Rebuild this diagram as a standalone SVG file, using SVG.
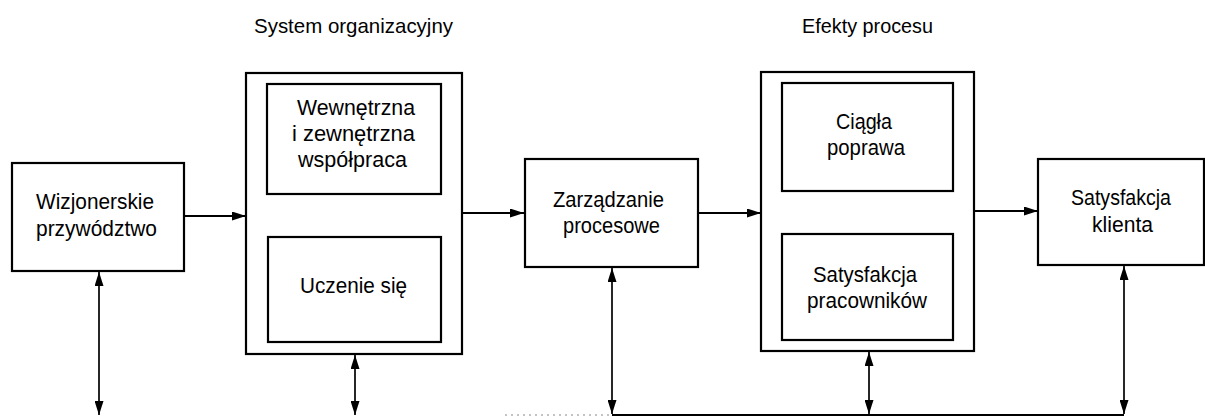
<svg xmlns="http://www.w3.org/2000/svg" width="1205" height="416" viewBox="0 0 1205 416">
<defs>
<style>
.box{fill:#fff;stroke:#000;stroke-width:2.2}
.txt{font-family:"Liberation Sans",Arial,sans-serif;font-size:22px;fill:#000;text-anchor:middle}
.ttl{font-family:"Liberation Sans",Arial,sans-serif;font-size:21px;fill:#000;text-anchor:middle}
.con{fill:none;stroke:#000;stroke-width:2}
.vcon{fill:none;stroke:#000;stroke-width:1.7}
.faint{fill:none;stroke:#888;stroke-width:1;stroke-dasharray:2 4}
</style>
<marker id="arr" viewBox="0 0 14 9" refX="14" refY="4.5" markerWidth="14" markerHeight="9" markerUnits="userSpaceOnUse" orient="auto-start-reverse">
<path d="M0,0 L14,4.5 L0,9 z" fill="#000"/>
</marker>
</defs>
<rect width="1205" height="416" fill="#fff"/>

<g id="title-system">
<text class="ttl" x="353.5" y="33" textLength="199" lengthAdjust="spacingAndGlyphs">System organizacyjny</text>
</g>
<g id="title-efekty">
<text class="ttl" x="867.5" y="33" textLength="131" lengthAdjust="spacingAndGlyphs">Efekty procesu</text>
</g>

<g id="node-wizjonerskie">
<rect class="box" x="12" y="163" width="172" height="108"/>
<text class="txt" x="95" y="209" textLength="118" lengthAdjust="spacingAndGlyphs">Wizjonerskie</text>
<text class="txt" x="96.5" y="236" textLength="121" lengthAdjust="spacingAndGlyphs">przywództwo</text>
</g>

<g id="node-system">
<rect class="box" x="246" y="73" width="216" height="281"/>
<g id="node-wspolpraca">
<rect class="box" x="267" y="84" width="174" height="110"/>
<text class="txt" x="356" y="115" textLength="118" lengthAdjust="spacingAndGlyphs">Wewnętrzna</text>
<text class="txt" x="353.5" y="141" textLength="123" lengthAdjust="spacingAndGlyphs">i zewnętrzna</text>
<text class="txt" x="352.5" y="167" textLength="109" lengthAdjust="spacingAndGlyphs">współpraca</text>
</g>
<g id="node-uczenie">
<rect class="box" x="268" y="237" width="173" height="105"/>
<text class="txt" x="353.5" y="293" textLength="107" lengthAdjust="spacingAndGlyphs">Uczenie się</text>
</g>
</g>

<g id="node-zarzadzanie">
<rect class="box" x="525" y="159" width="173" height="108"/>
<text class="txt" x="608.5" y="207" textLength="111" lengthAdjust="spacingAndGlyphs">Zarządzanie</text>
<text class="txt" x="611.5" y="233" textLength="97" lengthAdjust="spacingAndGlyphs">procesowe</text>
</g>

<g id="node-efekty">
<rect class="box" x="761" y="72" width="213" height="279"/>
<g id="node-poprawa">
<rect class="box" x="782" y="83" width="171" height="108"/>
<text class="txt" x="864" y="129" textLength="56" lengthAdjust="spacingAndGlyphs">Ciągła</text>
<text class="txt" x="866" y="155" textLength="78" lengthAdjust="spacingAndGlyphs">poprawa</text>
</g>
<g id="node-pracownicy">
<rect class="box" x="782" y="234" width="171" height="106"/>
<text class="txt" x="865" y="282" textLength="104" lengthAdjust="spacingAndGlyphs">Satysfakcja</text>
<text class="txt" x="867" y="308" textLength="120" lengthAdjust="spacingAndGlyphs">pracowników</text>
</g>
</g>

<g id="node-klient">
<rect class="box" x="1038" y="159" width="166" height="106"/>
<text class="txt" x="1121" y="205" textLength="100" lengthAdjust="spacingAndGlyphs">Satysfakcja</text>
<text class="txt" x="1122.5" y="232" textLength="61" lengthAdjust="spacingAndGlyphs">klienta</text>
</g>

<g id="connectors">
<path class="con" d="M184,216 H246" marker-end="url(#arr)"/>
<path class="con" d="M462,213 H524" marker-end="url(#arr)"/>
<path class="con" d="M698,213 H761" marker-end="url(#arr)"/>
<path class="con" d="M974,211 H1038" marker-end="url(#arr)"/>
<path class="vcon" d="M99,272 V415" marker-start="url(#arr)" marker-end="url(#arr)"/>
<path class="vcon" d="M355,355 V415" marker-start="url(#arr)" marker-end="url(#arr)"/>
<path class="vcon" d="M612,268 V414" marker-start="url(#arr)" marker-end="url(#arr)"/>
<path class="vcon" d="M869,352 V414" marker-start="url(#arr)" marker-end="url(#arr)"/>
<path class="vcon" d="M1124,266 V414" marker-start="url(#arr)" marker-end="url(#arr)"/>
<path class="con" d="M612,415 H1124"/>
<path class="faint" d="M505,415 H612"/>
</g>
</svg>
